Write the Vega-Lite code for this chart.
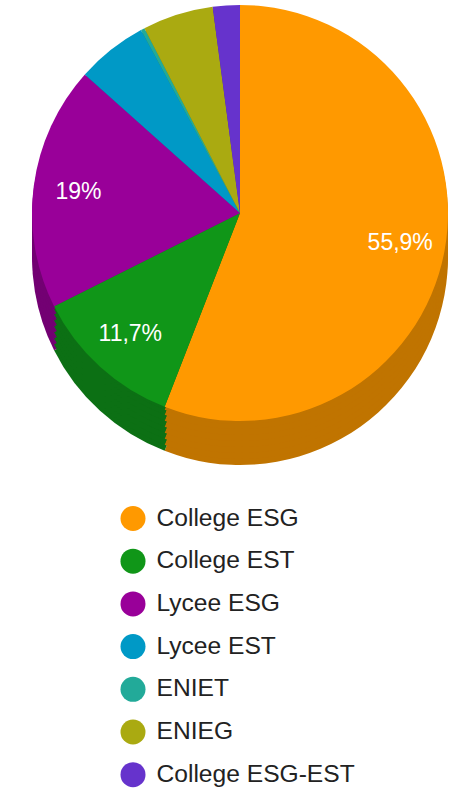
{
  "$schema": "https://vega.github.io/schema/vega-lite/v6.json",
  "width": 466,
  "height": 426,
  "autosize": {"type": "none"},
  "padding": {"left": 7, "top": 0, "right": 0, "bottom": 365},
  "background": "white",
  "config": {"view": {"stroke": null}},
  "data": {"values": [
    {"k": 1, "cat": "College ESG", "v": 55.9, "lab": "55,9%"},
    {"k": 2, "cat": "College EST", "v": 11.7, "lab": "11,7%"},
    {"k": 3, "cat": "Lycee ESG", "v": 19.0, "lab": "19%"},
    {"k": 4, "cat": "Lycee EST", "v": 5.5, "lab": ""},
    {"k": 5, "cat": "ENIET", "v": 0.3, "lab": ""},
    {"k": 6, "cat": "ENIEG", "v": 5.5, "lab": ""},
    {"k": 7, "cat": "College ESG-EST", "v": 2.1, "lab": ""}
  ]},
  "encoding": {
    "theta": {"field": "v", "type": "quantitative", "stack": true},
    "order": {"field": "k", "type": "quantitative"}
  },
  "layer": [
    {
      "encoding": {"color": {"field": "cat", "type": "nominal", "legend": null, "scale": {"domain": ["College ESG", "College EST", "Lycee ESG", "Lycee EST", "ENIET", "ENIEG", "College ESG-EST"], "range": ["#c07400", "#0c7014", "#730073", "#007396", "#1a8073", "#80800d", "#4d2699"]}}},
      "layer": [
        {"mark": {"type": "arc", "outerRadius": 208, "yOffset": 44}},
        {"mark": {"type": "arc", "outerRadius": 208, "yOffset": 38}},
        {"mark": {"type": "arc", "outerRadius": 208, "yOffset": 32}},
        {"mark": {"type": "arc", "outerRadius": 208, "yOffset": 26}},
        {"mark": {"type": "arc", "outerRadius": 208, "yOffset": 20}},
        {"mark": {"type": "arc", "outerRadius": 208, "yOffset": 14}},
        {"mark": {"type": "arc", "outerRadius": 208, "yOffset": 8}},
        {"mark": {"type": "arc", "outerRadius": 208, "yOffset": 3}}
      ]
    },
    {"mark": {"type": "arc", "outerRadius": 208}, "encoding": {"color": {"field": "cat", "type": "nominal",
      "scale": {"domain": ["College ESG", "College EST", "Lycee ESG", "Lycee EST", "ENIET", "ENIEG", "College ESG-EST"], "range": ["#ff9900", "#109618", "#990099", "#0099c6", "#22aa99", "#aaaa11", "#6633cc"]},
      "legend": {"title": null, "orient": "none", "legendX": 113.5, "legendY": 506, "padding": 0, "symbolType": "circle", "symbolSize": 625, "symbolStrokeWidth": 0, "symbolOpacity": 1, "labelFontSize": 24.6, "labelFont": "Liberation Sans", "labelColor": "#222222", "labelOffset": 11, "rowPadding": 16.7, "labelLimit": 400}}}},
    {"mark": {"type": "text", "radius": 163, "fontSize": 23, "font": "Liberation Sans", "fill": "white"}, "encoding": {"text": {"field": "lab", "type": "nominal"}}}
  ],
  "resolve": {"scale": {"color": "independent"}, "legend": {"color": "independent"}}
}
